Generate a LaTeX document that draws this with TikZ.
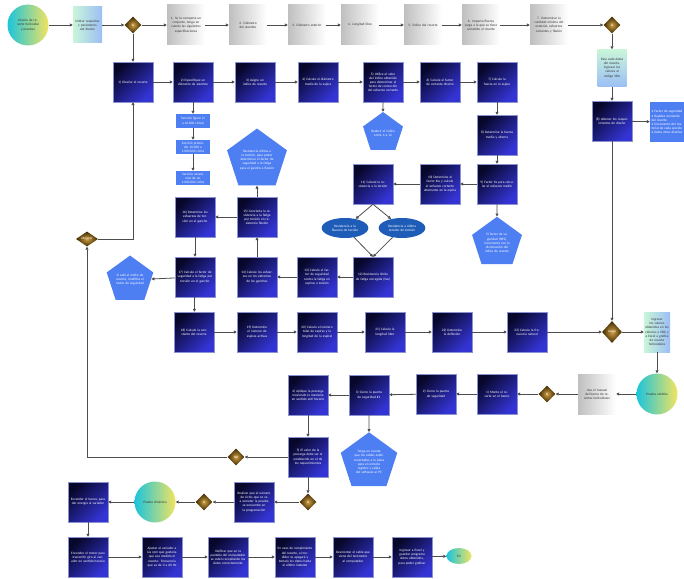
\documentclass[tikz,border=0pt]{standalone}
\usepackage{fontspec}
\setmainfont{Carlito}
\usetikzlibrary{shapes.geometric,arrows.meta}

\definecolor{navyd}{HTML}{07072A}
\definecolor{bluel}{HTML}{3434D4}
\definecolor{boxedge}{HTML}{8A93D0}
\definecolor{cornfl}{HTML}{4D7EF2}
\definecolor{ellc}{HTML}{1F5CB8}
\definecolor{goldc}{HTML}{CFA042}
\definecolor{brownc}{HTML}{3C2700}
\definecolor{cyanc}{HTML}{1CC4DC}
\definecolor{yellowc}{HTML}{F2E460}
\definecolor{lgreen}{HTML}{C9F5D9}
\definecolor{lblue}{HTML}{9CBFF5}
\definecolor{lineg}{HTML}{4D4D4D}

\tikzset{
  base/.style={align=center, inner sep=1pt, font=\fontsize{3.4}{4.1}\selectfont},
  dbox/.style={base, rectangle, minimum width=40pt, minimum height=40pt, text width=35pt,
    text=white, draw=boxedge, line width=0.4pt,
    top color=navyd, bottom color=bluel, shading angle=45},
  gbox/.style={base, rectangle, minimum width=38pt, minimum height=40pt, text width=34pt,
    text=black!80, left color=gray!50, right color=white},
  grbox/.style={base, rectangle, text=black!80, left color=lgreen, right color=lblue},
  lrect/.style={base, rectangle, fill=cornfl, text=white, minimum width=34pt,
    minimum height=14pt, text width=31pt},
  pent/.style={base, regular polygon, regular polygon sides=5, fill=cornfl, text=white, inner sep=0pt},
  oval/.style={base, ellipse, fill=ellc, text=white, minimum width=45pt, minimum height=20pt,
    text width=33pt, inner sep=0pt},
  dia/.style={base, diamond, minimum width=17pt, minimum height=17pt, inner sep=0pt,
    inner color=goldc, outer color=brownc, text=white},
  circ/.style={base, circle, minimum size=41pt, text width=28pt, text=black!80,
    left color=cyanc, right color=yellowc},
  conn/.style={draw=lineg, line width=0.8pt, -{Triangle[length=3pt,width=3pt]}},
}

\begin{document}
\begin{tikzpicture}[x=1pt,y=-1pt]
\useasboundingbox[fill=white] (0,0) rectangle (684,578);

% ---------- top row: requirements ----------
\node[circ] (start) at (28,25) {Diseño de resorte helicoidal y pruebas};
\node[grbox, minimum width=29pt, minimum height=36pt, text width=26pt] (req) at (87.5,25)
  {Indicar requisitos y parámetros del diseño};
\node[dia] (d1) at (133,25) {Si};
\node[gbox] (g1) at (186,25) {1. Se le comparte un conjunto, tenga en cuenta las siguientes especificaciones};
\node[gbox] (g2) at (248,25) {2. Diámetro del alambre};
\node[gbox] (g3) at (307,25) {3. Diámetro exterior};
\node[gbox] (g4) at (360,25) {4. Longitud libre};
\node[gbox] (g5) at (423,25) {5. Índice del resorte};
\node[gbox] (g6) at (481,25) {6. Impacto/Fuerza carga a la que se tiene sometido el resorte};
\node[gbox] (g7) at (549,25) {7. Determinar la cantidad mínima del material, esfuerzos cortantes y flexión};
\node[dia] (d2) at (612,25) {Si};
\node[grbox, minimum width=29pt, minimum height=37pt, text width=26pt, top color=lgreen, bottom color=lblue]
  (vba) at (612,68) {Para cada datos del resorte, ingresar los valores al código VBA};
\node[dbox] (req8) at (612,121) {(8) obtener los requerimientos de diseño};
\node[base, rectangle, fill=cornfl, text=white, minimum width=36pt, minimum height=40pt,
  text width=33pt, align=left] (list) at (668,122)
  {• Factor de seguridad\\ • Rapidez constante del resorte\\ • Incremento del material de cada sección\\ • Datos otros diseños};

% ---------- second row: design steps ----------
\node[dbox] (s1) at (133,82) {1) Diseñar el resorte};
\node[dbox] (s2) at (193,82) {2) Especifique un diámetro de alambre};
\node[dbox] (s3) at (255,82) {3) Asigne un índice de resorte};
\node[dbox] (s4) at (318,82) {4) Calcule el diámetro medio de la espira};
\node[dbox] (s5) at (383,82) {5) Utilice el valor del índice obtenido para determinar el factor de corrección del esfuerzo cortante};
\node[dbox] (s6) at (440,82) {6) Calcule el factor de cortante directo};
\node[dbox] (s7) at (497,82) {7) Calcule la fuerza en la espira};
\node[dbox] (s8) at (497,135) {8) Determine la fuerza media y alterna};
\node[dbox] (s9) at (497,184) {9) Factor Ks para calcular el esfuerzo medio};
\node[dbox] (s10) at (440,184) {10) Determine el factor Kw y calcule el esfuerzo cortante alternante en la espira};
\node[dbox] (s11) at (373,184) {11) Calcule la resistencia a la torsión};
\node[oval] (e1) at (345,228) {Resistencia a la fluencia de torsión};
\node[oval] (e2) at (402,228) {Resistencia a última tensión de torsión};
\node[dbox] (s12) at (373,277) {12) Resistencia límite de fatiga corregida (Ses)};
\node[dbox] (s13) at (317,277) {13) Calcule el factor de seguridad contra la fatiga en espiras a torsión};
\node[dbox] (s14) at (257,277) {14) Calcule los esfuerzos en los extremos de los ganchos};
\node[dbox] (s15) at (257,217) {15) Convierta la resistencia a la fatiga por torsión en resistencia flexión};
\node[dbox] (s16) at (195,217) {16) Determine los esfuerzos de torsión en el gancho};
\node[dbox] (s17) at (195,277) {17) Calcule el factor de seguridad a la fatiga por torsión en el gancho};
\node[dbox] (s18) at (194,332) {18) Calcule la constante del resorte};
\node[dbox] (s19) at (257,332) {19) Determine el número de espiras activas};
\node[dbox] (s20) at (317,332) {20) Calcule el número total de espiras y la longitud de la espiral};
\node[dbox] (s21) at (385,332) {21) Calcule la longitud libre};
\node[dbox] (s22) at (452,332) {22) Determine la deflexión};
\node[dbox] (s23) at (527,332) {23) Calcule la frecuencia natural};

% notes
\node[lrect] (lb1) at (193,121) {Servicio ligero (1 a 10.000 ciclos)};
\node[lrect] (lb2) at (193,147) {Servicio promedio 10.000 a 1.000.000 ciclos};
\node[lrect] (lb3) at (193,178) {Servicio severo más de un 1.000.000 ciclos};
\node[pent, minimum size=42pt, text width=24pt] (p5n) at (383,133) {Reducir el índice entre 4 a 12};
\node[pent, minimum size=50pt, text width=30pt] (p9n) at (497,243)
  {El factor de seguridad (NFS), incrementa con la disminución del índice de resorte};
\node[pent, minimum size=54pt, text width=36pt] (p15n) at (257,160)
  {Resistencia última a la torsión, para poder determinar el factor de seguridad a la fatiga para el gancho a flexión};
\node[pent, minimum size=46pt, text width=28pt] (p17n) at (130,280)
  {Si está el índice de resorte, modifica el factor de seguridad};

% ---------- static test ----------
\node[dia, minimum width=20pt, minimum height=22pt] (luego) at (612,332) {Luego};
\node[grbox, minimum width=26pt, minimum height=40pt, text width=24pt] (ing) at (657,332)
  {Ingresar los valores obtenidos en los cálculos a VBA y a Excel a gráfica de resorte helicoidales};
\node[circ] (est) at (657,394) {Prueba estática};
\node[gbox] (man) at (597,394) {Use el manual del banco de resortes helicoidales};
\node[dia] (si3) at (547,394) {Si};
\node[dbox] (t1) at (497,394) {1) Monte el resorte en el banco};
\node[dbox] (t2) at (436,394) {2) Cierre la puerta de seguridad};
\node[dbox] (t3) at (369,395) {3) Cierre la puerta de seguridad \#1};
\node[dbox] (t4) at (308,395) {4) Aplique la precarga moviendo la manivela en sentido anti horario};
\node[dbox] (t5) at (308,457) {5) El valor de la precarga debe ser el establecido en el de los requerimientos};
\node[pent, minimum size=54pt, text width=34pt] (pB) at (369,462)
  {Tenga en cuenta que los cables estén conectados a la placa para el correcto registro y salida del software al PC};
\node[dia] (no) at (236,457) {NO};
\node[dia, minimum width=22pt, minimum height=15pt] (mej) at (87,239) {Mejorar};

% ---------- dynamic test ----------
\node[dia] (si4) at (308,502) {Si};
\node[dbox] (rea) at (254,502) {Realizar que el número de ciclos que se va a someter la prueba se encuentre en la programación};
\node[dia] (si5) at (204,502) {Si};
\node[circ] (din) at (155,502) {Prueba dinámica};
\node[dbox] (ban) at (88,502) {Encender el banco, para dar energía al variador};
\node[dbox] (u1) at (88,557) {Encender el motor para transmitir giro al variador en sentido horario};
\node[dbox] (u2) at (162,557) {Ajustar el variador a las rpm que gustaría que sea medido el resorte. Frecuencia que va de 0 a 60 Hz};
\node[dbox] (u3) at (228,557) {Verificar que en la pantalla del computador se estén recopilando los datos correctamente};
\node[dbox] (u4) at (295,557) {En caso de rompimiento del resorte, el medidor se apagará y tomará los datos hasta el último instante};
\node[dbox] (u5) at (353,557) {Desmontar el cable que viene del tacómetro al computador};
\node[dbox] (u6) at (412,557) {Ingresar a Excel y guardar programa datos obtenidos, para poder graficar};
\node[base, ellipse, minimum width=25pt, minimum height=16pt, left color=cyanc, right color=yellowc,
  text=black!80] (fin) at (459,556) {Fin};

% ---------- connectors ----------
\draw[conn] (start) -- (req);
\draw[conn] (req) -- (d1);
\draw[conn] (d1) -- (g1);
\draw[conn] (g1) -- (g2);
\draw[conn] (g2) -- (g3);
\draw[conn] (g3) -- (g4);
\draw[conn] (g4) -- (g5);
\draw[conn] (g5) -- (g6);
\draw[conn] (g6) -- (g7);
\draw[conn] (g7) -- (d2);
\draw[conn] (d2) -- (vba);
\draw[conn] (vba) -- (req8);
\draw[conn] (req8) -- (list);
\draw[conn] (req8) -- (luego);
\draw[conn] (d1) -- (s1);
\draw[conn] (s1) -- (s2);
\draw[conn] (s2) -- (s3);
\draw[conn] (s3) -- (s4);
\draw[conn] (s4) -- (s5);
\draw[conn] (s5) -- (s6);
\draw[conn] (s6) -- (s7);
\draw[conn] (s7) -- (s8);
\draw[conn] (s8) -- (s9);
\draw[conn] (s9) -- (p9n);
\draw[conn] (s9) -- (s10);
\draw[conn] (s10) -- (s11);
\draw[conn] (s11.south) -- (e1);
\draw[conn] (s11.south) -- (e2);
\draw[conn] (e1) -- (s12.north);
\draw[conn] (e2) -- (s12.north);
\draw[conn] (s12) -- (s13);
\draw[conn] (s13) -- (s14);
\draw[conn] (s14) -- (s15);
\draw[conn] (s15) -- (p15n);
\draw[conn] (s15) -- (s16);
\draw[conn] (s16) -- (s17);
\draw[conn] (s17) -- (p17n);
\draw[conn] (s17) -- (s18);
\draw[conn] (s18) -- (s19);
\draw[conn] (s19) -- (s20);
\draw[conn] (s20) -- (s21);
\draw[conn] (s21) -- (s22);
\draw[conn] (s22) -- (s23);
\draw[conn] (s23) -- (luego);
\draw[conn] (s2) -- (lb1);
\draw[conn] (lb1) -- (lb2);
\draw[conn] (lb2) -- (lb3);
\draw[conn] (s5) -- (p5n);
\draw[conn] (luego) -- (ing);
\draw[conn] (ing) -- (est);
\draw[conn] (est) -- (man);
\draw[conn] (man) -- (si3);
\draw[conn] (si3) -- (t1);
\draw[conn] (t1) -- (t2);
\draw[conn] (t2) -- (t3);
\draw[conn] (t3) -- (t4);
\draw[conn] (t4) -- (t5);
\draw[conn] (t3) -- (pB);
\draw[conn] (t5) -- (no);
\draw[conn] (no) -| (mej);
\draw[conn] (mej) -| (s1);
\draw[conn] (t5) -- (si4);
\draw[conn] (si4) -- (rea);
\draw[conn] (rea) -- (si5);
\draw[conn] (si5) -- (din);
\draw[conn] (din) -- (ban);
\draw[conn] (ban) -- (u1);
\draw[conn] (u1) -- (u2);
\draw[conn] (u2) -- (u3);
\draw[conn] (u3) -- (u4);
\draw[conn] (u4) -- (u5);
\draw[conn] (u5) -- (u6);
\draw[conn] (u6) -- (fin);
\end{tikzpicture}
\end{document}
